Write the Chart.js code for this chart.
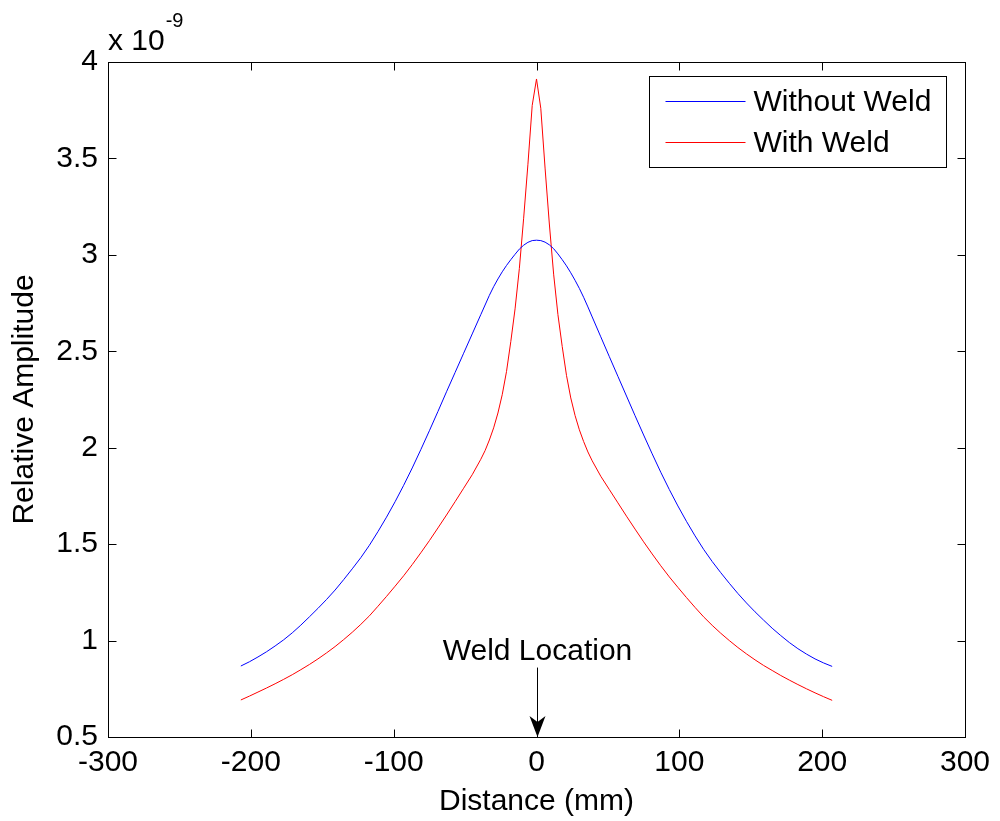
<!DOCTYPE html>
<html>
<head>
<meta charset="utf-8">
<title>Relative Amplitude vs Distance</title>
<script src="https://cdn.jsdelivr.net/npm/chart.js@4.4.1/dist/chart.umd.min.js"></script>
<style>
  html, body { margin: 0; padding: 0; background: #fff; }
  #wrap { width: 1000px; height: 821px; }
</style>
</head>
<body>
<div id="wrap"><canvas id="chart" width="1000" height="821"></canvas></div>
<script>
// ---- data (amplitude in units of 1e-9) ----
var DIST = [
  -207, -201, -195, -189, -183, -177, -171, -165, -159, -153, -147, -141, -135, -129,
  -123, -117, -111, -105, -99, -93, -87, -81, -75, -69, -63, -57, -51, -45, -39,
  -36, -33, -30, -27, -24, -21, -18, -15, -12, -9, -6, -3, 0,
  3, 6, 9, 12, 15, 18, 21, 24, 27, 30, 33, 36,
  39, 45, 51, 57, 63, 69, 75, 81, 87, 93, 99, 105, 111, 117, 123,
  129, 135, 141, 147, 153, 159, 165, 171, 177, 183, 189, 195, 201, 207
];
var WITHOUT_WELD = [
  0.868, 0.890, 0.915, 0.942, 0.972, 1.004, 1.040, 1.080, 1.123, 1.167, 1.213, 1.262, 1.316, 1.372,
  1.430, 1.494, 1.565, 1.640, 1.720, 1.805, 1.895, 1.990, 2.088, 2.188, 2.290, 2.390, 2.490, 2.590, 2.690,
  2.740, 2.790, 2.835, 2.875, 2.912, 2.945, 2.975, 3.003, 3.030, 3.050, 3.065, 3.074, 3.076,
  3.074, 3.066, 3.052, 3.032, 3.005, 2.975, 2.943, 2.907, 2.868, 2.826, 2.780, 2.730,
  2.678, 2.575, 2.472, 2.370, 2.268, 2.166, 2.066, 1.968, 1.873, 1.783, 1.698, 1.618, 1.543, 1.473, 1.410,
  1.352, 1.297, 1.244, 1.195, 1.149, 1.106, 1.064, 1.026, 0.990, 0.958, 0.930, 0.905, 0.884, 0.866
];
var WITH_WELD = [
  0.692, 0.712, 0.733, 0.754, 0.776, 0.799, 0.823, 0.849, 0.876, 0.905, 0.936, 0.969, 1.005, 1.043,
  1.084, 1.128, 1.178, 1.229, 1.282, 1.336, 1.394, 1.455, 1.518, 1.584, 1.651, 1.720, 1.790, 1.860, 1.940,
  1.985, 2.040, 2.103, 2.180, 2.275, 2.395, 2.550, 2.720, 2.930, 3.190, 3.470, 3.775, 3.912,
  3.760, 3.450, 3.160, 2.900, 2.690, 2.525, 2.375, 2.258, 2.167, 2.093, 2.032, 1.978,
  1.932, 1.852, 1.783, 1.714, 1.645, 1.578, 1.512, 1.449, 1.388, 1.330, 1.276, 1.223, 1.172, 1.123, 1.079,
  1.038, 1.000, 0.964, 0.931, 0.900, 0.871, 0.845, 0.819, 0.795, 0.772, 0.750, 0.729, 0.709, 0.690
];
var SERIES_NAMES = ['Without Weld', 'With Weld'];
var X_TICKS = [-300, -200, -100, 0, 100, 200, 300];
var Y_TICKS = [0.5, 1, 1.5, 2, 2.5, 3, 3.5, 4];

var BLUE = '#0000ff';
var RED  = '#ff0000';
var INK  = '#000000';
var FONT = "'Liberation Sans', Arial, Helvetica, sans-serif";

function points(ys) {
  return DIST.map(function (x, i) { return { x: x, y: ys[i] }; });
}

// MATLAB style frame: box round the axes with inward ticks on all four sides,
// exponent label, legend box and the weld arrow.
var matlabFrame = {
  id: 'matlabFrame',
  afterDraw: function (chart) {
    var ctx = chart.ctx, a = chart.chartArea;
    var xs = chart.scales.x, ys = chart.scales.y;
    var L = Math.round(a.left) + 0.5, R = Math.round(a.right) + 0.5;
    var T = Math.round(a.top) + 0.5, B = Math.round(a.bottom) + 0.5;
    var tl = 8;
    ctx.save();
    ctx.strokeStyle = INK;
    ctx.lineWidth = 1;
    ctx.beginPath();
    X_TICKS.forEach(function (v) {
      var px = Math.round(xs.getPixelForValue(v)) + 0.5;
      ctx.moveTo(px, B); ctx.lineTo(px, B - tl);
      ctx.moveTo(px, T); ctx.lineTo(px, T + tl);
    });
    Y_TICKS.forEach(function (v) {
      var py = Math.round(ys.getPixelForValue(v)) + 0.5;
      ctx.moveTo(L, py); ctx.lineTo(L + tl, py);
      ctx.moveTo(R, py); ctx.lineTo(R - tl, py);
    });
    ctx.stroke();
    ctx.strokeRect(L, T, R - L, B - T);

    // exponent
    ctx.fillStyle = INK;
    ctx.textAlign = 'left';
    ctx.textBaseline = 'alphabetic';
    ctx.font = '30px ' + FONT;
    ctx.fillText('x 10', a.left, a.top - 12);
    var w = ctx.measureText('x 10').width;
    ctx.font = '20px ' + FONT;
    ctx.fillText('-9', a.left + w + 1, a.top - 35);

    // legend
    var lx = Math.round(a.right - 316) + 0.5, ly = Math.round(a.top + 14) + 0.5;
    ctx.fillStyle = '#fff';
    ctx.fillRect(lx, ly, 297, 91);
    ctx.strokeRect(lx, ly, 297, 91);
    ctx.font = '30px ' + FONT;
    ctx.textBaseline = 'middle';
    [BLUE, RED].forEach(function (c, i) {
      var yy = Math.round(ly + 24 + i * 41) + 0.5;
      ctx.strokeStyle = c;
      ctx.beginPath();
      ctx.moveTo(lx + 16, yy); ctx.lineTo(lx + 96, yy);
      ctx.stroke();
      ctx.fillStyle = INK;
      ctx.fillText(SERIES_NAMES[i], lx + 104, yy + 1);
    });

    // weld location annotation
    var ax = Math.round(xs.getPixelForValue(0)) + 0.5;
    var tip = ys.getPixelForValue(0.5);
    ctx.textAlign = 'center';
    ctx.textBaseline = 'alphabetic';
    ctx.fillText('Weld Location', ax, ys.getPixelForValue(0.9));
    ctx.strokeStyle = INK;
    ctx.beginPath();
    ctx.moveTo(ax, ys.getPixelForValue(0.86));
    ctx.lineTo(ax, tip - 10);
    ctx.stroke();
    ctx.fillStyle = INK;
    ctx.beginPath();
    ctx.moveTo(ax, tip);
    ctx.lineTo(ax - 8, tip - 21);
    ctx.lineTo(ax, tip - 15);
    ctx.lineTo(ax + 8, tip - 21);
    ctx.closePath();
    ctx.fill();
    ctx.restore();
  }
};

Chart.defaults.font.family = FONT;
Chart.defaults.font.size = 30;
Chart.defaults.color = INK;

new Chart(document.getElementById('chart'), {
  type: 'line',
  data: {
    datasets: [
      { label: SERIES_NAMES[0], data: points(WITHOUT_WELD), borderColor: BLUE, borderWidth: 1,
        pointRadius: 0, tension: 0, fill: false },
      { label: SERIES_NAMES[1], data: points(WITH_WELD), borderColor: RED, borderWidth: 1,
        pointRadius: 0, tension: 0, fill: false }
    ]
  },
  options: {
    responsive: false,
    animation: false,
    devicePixelRatio: 1,
    layout: { padding: { top: 62, right: 35, left: 0, bottom: 0 } },
    plugins: { legend: { display: false }, tooltip: { enabled: false } },
    scales: {
      x: {
        type: 'linear', min: -300, max: 300,
        grid: { display: false, drawTicks: false },
        border: { display: false },
        ticks: { stepSize: 100, padding: 8, maxRotation: 0, autoSkip: false,
                 callback: function (v) { return String(v); } },
        title: { display: true, text: 'Distance (mm)', padding: { top: 0, bottom: 1 } },
        afterFit: function (s) { s.height = 84; }
      },
      y: {
        min: 0.5, max: 4,
        grid: { display: false, drawTicks: false },
        border: { display: false },
        ticks: { stepSize: 0.5, padding: 10, callback: function (v) { return String(v); } },
        title: { display: true, text: 'Relative Amplitude', padding: { top: 7, bottom: 0 } },
        afterFit: function (s) { s.width = 108; }
      }
    }
  },
  plugins: [matlabFrame]
});
</script>
</body>
</html>
